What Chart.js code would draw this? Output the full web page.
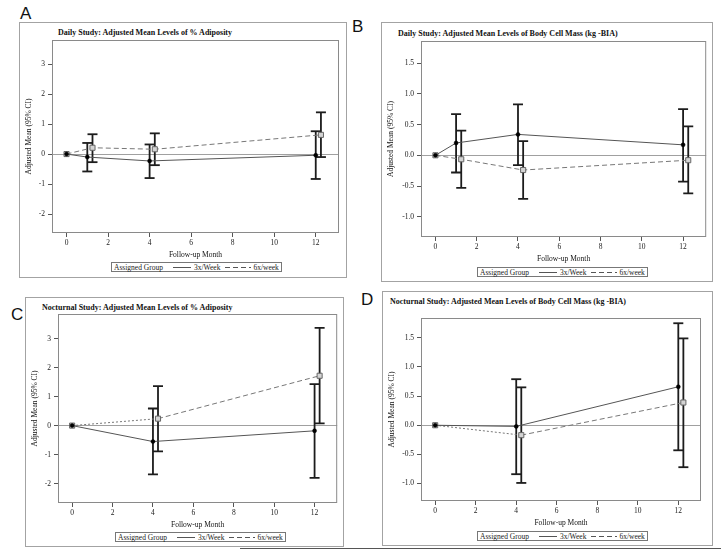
<!DOCTYPE html>
<html>
<head>
<meta charset="utf-8">
<script src="https://cdn.jsdelivr.net/npm/chart.js@4.4.0/dist/chart.umd.min.js"></script>
<style>
    body { margin: 0; width: 721px; height: 553px; overflow: hidden; position: relative; background: #fff; font-family: "Liberation Serif", serif; }
    .box { position: absolute; border: 1.5px solid #a3a3a3; box-sizing: border-box; }
    canvas { position: absolute; }
    .ttl { position: absolute; font: bold 8px "Liberation Serif", serif; line-height: 10px; white-space: nowrap; color: #111; }
    .letter { position: absolute; font: 17px "Liberation Sans", sans-serif; line-height: 17px; color: #111; }
    .leg { position: absolute; height: 10px; border: 1px solid #777; box-sizing: border-box; display: flex; align-items: center;
           font: 7.5px "Liberation Serif", serif; white-space: nowrap; padding: 0 2px; color: #222; }
    .leg svg { display: block; }
    .rule { position: absolute; left: 240px; top: 548px; width: 481px; height: 0; border-top: 1.5px solid #555; }
</style>
</head>
<body>

<div class="letter" style="left:20px;top:5px">A</div>
<div class="letter" style="left:352px;top:18px">B</div>
<div class="letter" style="left:11px;top:306px">C</div>
<div class="letter" style="left:361px;top:291px">D</div>
<div class="rule"></div>

<script>
// x axis ticks / months
const xTicks = [0, 2, 4, 6, 8, 10, 12];
const monthsDaily = [0, 1, 4, 12];
const monthsNoct = [0, 4, 12];

// A: Daily study, % adiposity
const a3Mean = [0, -0.10, -0.23, -0.04];
const a3Lo   = [null, -0.58, -0.80, -0.83];
const a3Hi   = [null, 0.37, 0.32, 0.76];
const a6Mean = [0, 0.21, 0.16, 0.64];
const a6Lo   = [null, -0.27, -0.37, -0.10];
const a6Hi   = [null, 0.66, 0.69, 1.39];
const aTicks = [-2, -1, 0, 1, 2, 3];

// B: Daily study, body cell mass
const b3Mean = [0, 0.20, 0.34, 0.17];
const b3Lo   = [null, -0.28, -0.16, -0.43];
const b3Hi   = [null, 0.67, 0.83, 0.75];
const b6Mean = [0, -0.065, -0.24, -0.08];
const b6Lo   = [null, -0.53, -0.71, -0.62];
const b6Hi   = [null, 0.40, 0.23, 0.47];
const bTicks = [-1, -0.5, 0, 0.5, 1, 1.5];

// C: Nocturnal study, % adiposity
const c3Mean = [0, -0.55, -0.18];
const c3Lo   = [null, -1.68, -1.80];
const c3Hi   = [null, 0.59, 1.43];
const c6Mean = [0, 0.24, 1.72];
const c6Lo   = [null, -0.89, 0.08];
const c6Hi   = [null, 1.36, 3.37];
const cTicks = [-2, -1, 0, 1, 2, 3];

// D: Nocturnal study, body cell mass
const d3Mean = [0, -0.02, 0.66];
const d3Lo   = [null, -0.84, -0.43];
const d3Hi   = [null, 0.79, 1.75];
const d6Mean = [0, -0.17, 0.39];
const d6Lo   = [null, -0.99, -0.72];
const d6Hi   = [null, 0.65, 1.49];
const dTicks = [-1, -0.5, 0, 0.5, 1, 1.5];

const DODGE = 0.25;   // 6x/week drawn a little to the right
const XAXIS_H = 26.5;
const FONT = '"Liberation Serif", serif';

const panels = [
    { title: 'Daily Study: Adjusted Mean Levels of % Adiposity', months: monthsDaily,
      m3: a3Mean, lo3: a3Lo, hi3: a3Hi, m6: a6Mean, lo6: a6Lo, hi6: a6Hi, yTicks: aTicks, yMin: -2.63, yMax: 3.8, dec: 0,
      box: [19, 22, 328, 256], plot: [52, 40, 339, 233], ttl: [58, 28], leg: [111, 262], firstDash: false },
    { title: 'Daily Study: Adjusted Mean Levels of Body Cell Mass (kg -BIA)', months: monthsDaily,
      m3: b3Mean, lo3: b3Lo, hi3: b3Hi, m6: b6Mean, lo6: b6Lo, hi6: b6Hi, yTicks: bTicks, yMin: -1.33, yMax: 1.86, dec: 1,
      box: [381, 22, 332, 260], plot: [421, 41, 708, 237], ttl: [398, 29], leg: [477, 267], firstDash: false },
    { title: 'Nocturnal Study: Adjusted Mean Levels of % Adiposity', months: monthsNoct,
      m3: c3Mean, lo3: c3Lo, hi3: c3Hi, m6: c6Mean, lo6: c6Lo, hi6: c6Hi, yTicks: cTicks, yMin: -2.67, yMax: 3.85, dec: 0,
      box: [25, 297, 319, 250], plot: [58, 314, 338, 503], ttl: [42, 303], leg: [115, 532], firstDash: true },
    { title: 'Nocturnal Study: Adjusted Mean Levels of Body Cell Mass (kg -BIA)', months: monthsNoct,
      m3: d3Mean, lo3: d3Lo, hi3: d3Hi, m6: d6Mean, lo6: d6Lo, hi6: d6Hi, yTicks: dTicks, yMin: -1.3, yMax: 1.84, dec: 1,
      box: [382, 291, 331, 255], plot: [421, 318, 701, 501], ttl: [390, 297], leg: [477, 531], firstDash: true }
];

function xOf(m, dx) { return m + (m > 0 ? dx : 0); }

function meanData(months, vals, dx) {
    return months.map((m, i) => ({ x: xOf(m, dx), y: vals[i] }));
}

// vertical CI segments separated by gaps
function barData(months, lo, hi, dx) {
    const out = [];
    months.forEach((m, i) => {
        if (lo[i] == null) return;
        const x = xOf(m, dx);
        out.push({ x: x, y: lo[i] }, { x: x, y: hi[i] }, { x: x, y: null });
    });
    return out;
}

function capData(months, lo, hi, dx) {
    const out = [];
    months.forEach((m, i) => {
        if (lo[i] == null) return;
        const x = xOf(m, dx);
        out.push({ x: x, y: lo[i] }, { x: x, y: hi[i] });
    });
    return out;
}

const frame = {
    id: 'frame',
    afterDatasetsDraw(chart) {
        const a = chart.chartArea, ctx = chart.ctx;
        ctx.save();
        ctx.strokeStyle = '#8a8a8a';
        ctx.lineWidth = 1;
        ctx.strokeRect(a.left + 0.5, a.top + 0.5, a.width - 1, a.height - 1);
        ctx.restore();
    }
};

function dashSvg(dash) {
    return `<svg width="${dash ? 26 : 18}" height="3"><line x1="0" y1="1.5" x2="${dash ? 26 : 18}" y2="1.5" stroke="#555" stroke-width="1" ${dash ? 'stroke-dasharray="5,3"' : ''}/></svg>`;
}

panels.forEach(p => {
    const [bx, by, bw, bh] = p.box;
    const [pl, pt, pr, pb] = p.plot;

    const box = document.createElement('div');
    box.className = 'box';
    box.style.cssText = `left:${bx}px;top:${by}px;width:${bw}px;height:${bh}px`;
    document.body.appendChild(box);

    const ttl = document.createElement('div');
    ttl.className = 'ttl';
    ttl.style.cssText = `left:${p.ttl[0]}px;top:${p.ttl[1]}px`;
    ttl.textContent = p.title;
    document.body.appendChild(ttl);

    const leg = document.createElement('div');
    leg.className = 'leg';
    leg.style.cssText = `left:${p.leg[0]}px;top:${p.leg[1]}px`;
    leg.innerHTML = `<span>Assigned Group</span><span style="width:10px"></span>${dashSvg(false)}<span style="width:3px"></span><span>3x/Week</span><span style="width:5px"></span>${dashSvg(true)}<span style="width:2px"></span><span>6x/week</span>`;
    document.body.appendChild(leg);

    const cv = document.createElement('canvas');
    cv.width = bw; cv.height = bh;
    cv.style.cssText = `left:${bx}px;top:${by}px;width:${bw}px;height:${bh}px`;
    document.body.appendChild(cv);

    const barCol = '#1c1c1c';
    new Chart(cv.getContext('2d'), {
        type: 'scatter',
        data: {
            datasets: [
                { label: '3x/Week', data: meanData(p.months, p.m3, 0), showLine: true, borderColor: '#555', borderWidth: 1,
                  pointStyle: 'circle', pointRadius: 2, pointBackgroundColor: '#000', pointBorderColor: '#000', pointBorderWidth: 0.5, order: 0 },
                { label: '6x/week', data: meanData(p.months, p.m6, DODGE), showLine: true, borderColor: '#777', borderWidth: 1,
                  borderDash: [5, 3],
                  segment: { borderDash: c => (p.firstDash && c.p0DataIndex === 0) ? [2, 2] : undefined },
                  pointStyle: 'rect', pointRadius: 3.6, pointBackgroundColor: '#d4d4d4', pointBorderColor: '#666', pointBorderWidth: 1, order: 1 },
                { data: barData(p.months, p.lo3, p.hi3, 0), showLine: true, spanGaps: false, borderColor: barCol, borderWidth: 1.8, pointRadius: 0, order: 2 },
                { data: barData(p.months, p.lo6, p.hi6, DODGE), showLine: true, spanGaps: false, borderColor: barCol, borderWidth: 1.8, pointRadius: 0, order: 2 },
                { data: capData(p.months, p.lo3, p.hi3, 0), pointStyle: 'line', pointRadius: 5, borderColor: barCol, pointBorderWidth: 1.8, order: 2 },
                { data: capData(p.months, p.lo6, p.hi6, DODGE), pointStyle: 'line', pointRadius: 5, borderColor: barCol, pointBorderWidth: 1.8, order: 2 }
            ]
        },
        options: {
            responsive: false,
            animation: false,
            devicePixelRatio: 1,
            layout: { padding: { left: 0, top: pt - by, right: bx + bw - pr, bottom: by + bh - pb - XAXIS_H } },
            plugins: { legend: { display: false }, title: { display: false }, tooltip: { enabled: false } },
            scales: {
                x: {
                    type: 'linear', min: -0.7, max: 13.12,
                    afterBuildTicks: s => { s.ticks = xTicks.map(v => ({ value: v })); },
                    afterFit: s => { s.height = XAXIS_H; },
                    border: { display: false },
                    grid: { drawOnChartArea: false, tickLength: 4, tickColor: '#555' },
                    ticks: { color: '#222', padding: 2, font: { family: FONT, size: 7.5 } },
                    title: { display: true, text: 'Follow-up Month', color: '#111', padding: { top: 0, bottom: 0 }, font: { family: FONT, size: 7.5 } }
                },
                y: {
                    type: 'linear', min: p.yMin, max: p.yMax,
                    afterBuildTicks: s => { s.ticks = p.yTicks.map(v => ({ value: v })); },
                    afterFit: s => { s.width = pl - bx; },
                    border: { display: false },
                    grid: { color: c => (c.tick && c.tick.value === 0) ? '#a0a0a0' : 'rgba(0,0,0,0)', lineWidth: 1, tickLength: 4, tickColor: '#555' },
                    ticks: { color: '#222', padding: 3, font: { family: FONT, size: 7.5 }, callback: v => v.toFixed(p.dec) },
                    title: { display: true, text: 'Adjusted Mean (95% CI)', color: '#111', padding: { top: 6, bottom: 0 }, font: { family: FONT, size: 7.5 } }
                }
            }
        },
        plugins: [frame]
    });
});
</script>
</body>
</html>
